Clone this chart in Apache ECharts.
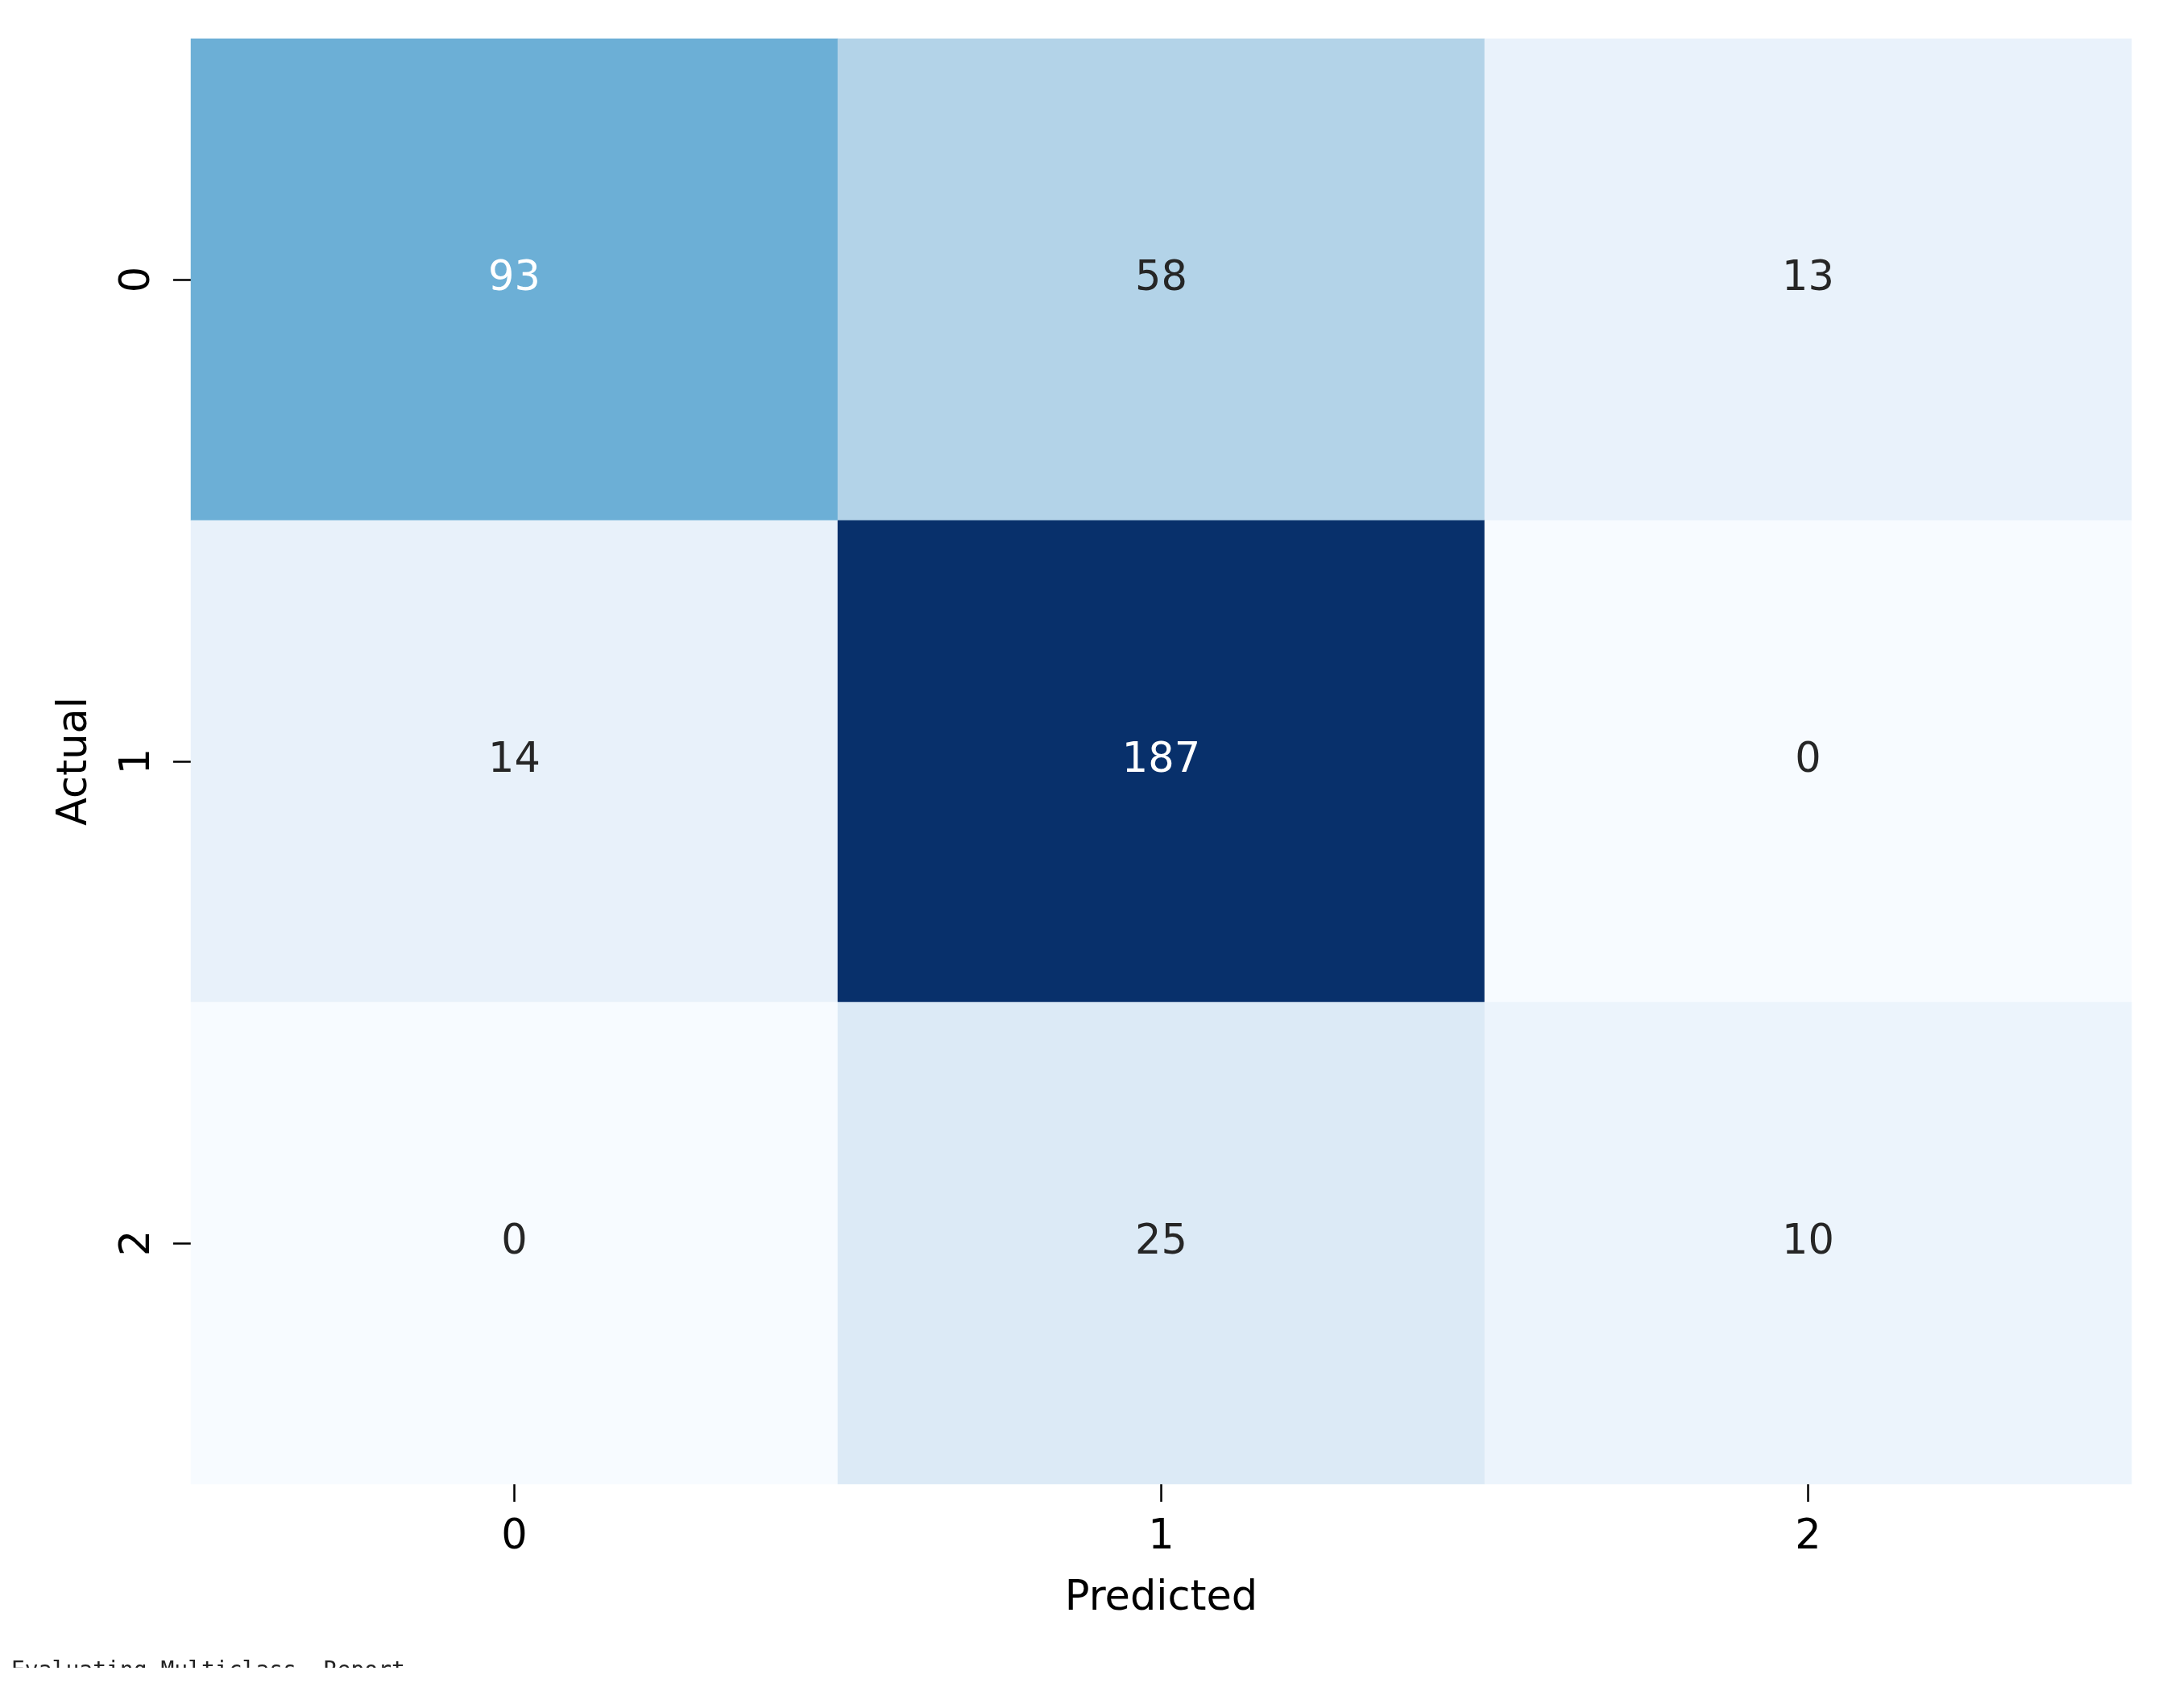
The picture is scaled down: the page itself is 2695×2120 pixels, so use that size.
<!DOCTYPE html>
<html>
<head>
<meta charset="utf-8">
<script src="https://cdn.jsdelivr.net/npm/echarts@6/dist/echarts.min.js"></script>
<style>
html,body{margin:0;padding:0;background:#fff;}
#chart{width:2695px;height:2120px;}
</style>
</head>
<body>
<div id="chart"></div>
<script>
const predictedLabels = ['0', '1', '2'];
const actualLabels = ['0', '1', '2'];
const row0 = [93, 58, 13];
const row1 = [14, 187, 0];
const row2 = [0, 25, 10];
const matrixRows = [row0, row1, row2];
const footerText = 'Evaluating Multiclass  Report';

const blues = ['#f7fbff','#deebf7','#c6dbef','#9ecae1','#6baed6','#4292c6','#2171b5','#08519c','#08306b'];
const vmax = Math.max(...matrixRows.flat());
const vmin = 0;

const data = [];
matrixRows.forEach((row, yi) => {
  row.forEach((v, xi) => {
    const dark = (v - vmin) / (vmax - vmin) > 0.42;
    data.push({ value: [xi, yi, v], label: { color: dark ? '#ffffff' : '#262626' } });
  });
});

const FONT = 'DejaVu Sans';
const FS = 51;

const chart = echarts.init(document.getElementById('chart'), null, { renderer: 'canvas' });
chart.setOption({
  backgroundColor: '#ffffff',
  animation: false,
  grid: { left: 237, top: 48, width: 2409, height: 1794, containLabel: false },
  xAxis: {
    type: 'category',
    data: predictedLabels,
    name: 'Predicted',
    nameLocation: 'middle',
    nameGap: 117,
    nameTextStyle: { fontFamily: FONT, fontSize: FS, color: '#000' },
    axisLine: { show: false },
    axisTick: { show: true, alignWithLabel: true, length: 22, lineStyle: { color: '#000', width: 2.5 } },
    axisLabel: { fontFamily: FONT, fontSize: FS, color: '#000', margin: 41 },
    splitLine: { show: false }
  },
  yAxis: {
    type: 'category',
    data: actualLabels,
    inverse: true,
    name: 'Actual',
    nameLocation: 'middle',
    nameGap: 118,
    nameRotate: 90,
    nameTextStyle: { fontFamily: FONT, fontSize: FS, color: '#000' },
    axisLine: { show: false },
    axisTick: { show: true, alignWithLabel: true, length: 22, lineStyle: { color: '#000', width: 2.5 } },
    axisLabel: { fontFamily: FONT, fontSize: FS, color: '#000', margin: 40, rotate: 90 },
    splitLine: { show: false }
  },
  visualMap: {
    show: false,
    min: vmin,
    max: vmax,
    dimension: 2,
    inRange: { color: blues }
  },
  series: [{
    type: 'heatmap',
    data: data,
    label: { show: true, fontFamily: FONT, fontSize: FS, formatter: p => String(p.value[2]) },
    itemStyle: { borderWidth: 0 },
    emphasis: { disabled: true }
  }],
  graphic: [
    {
      type: 'text',
      left: 14,
      top: 2061,
      style: { text: footerText, fontFamily: 'DejaVu Sans Mono', fontSize: 28, fill: '#222' },
      z: 10
    },
    {
      type: 'rect',
      shape: { x: 0, y: 2070, width: 2695, height: 60 },
      style: { fill: '#ffffff' },
      z: 20
    }
  ]
});
</script>
</body>
</html>
